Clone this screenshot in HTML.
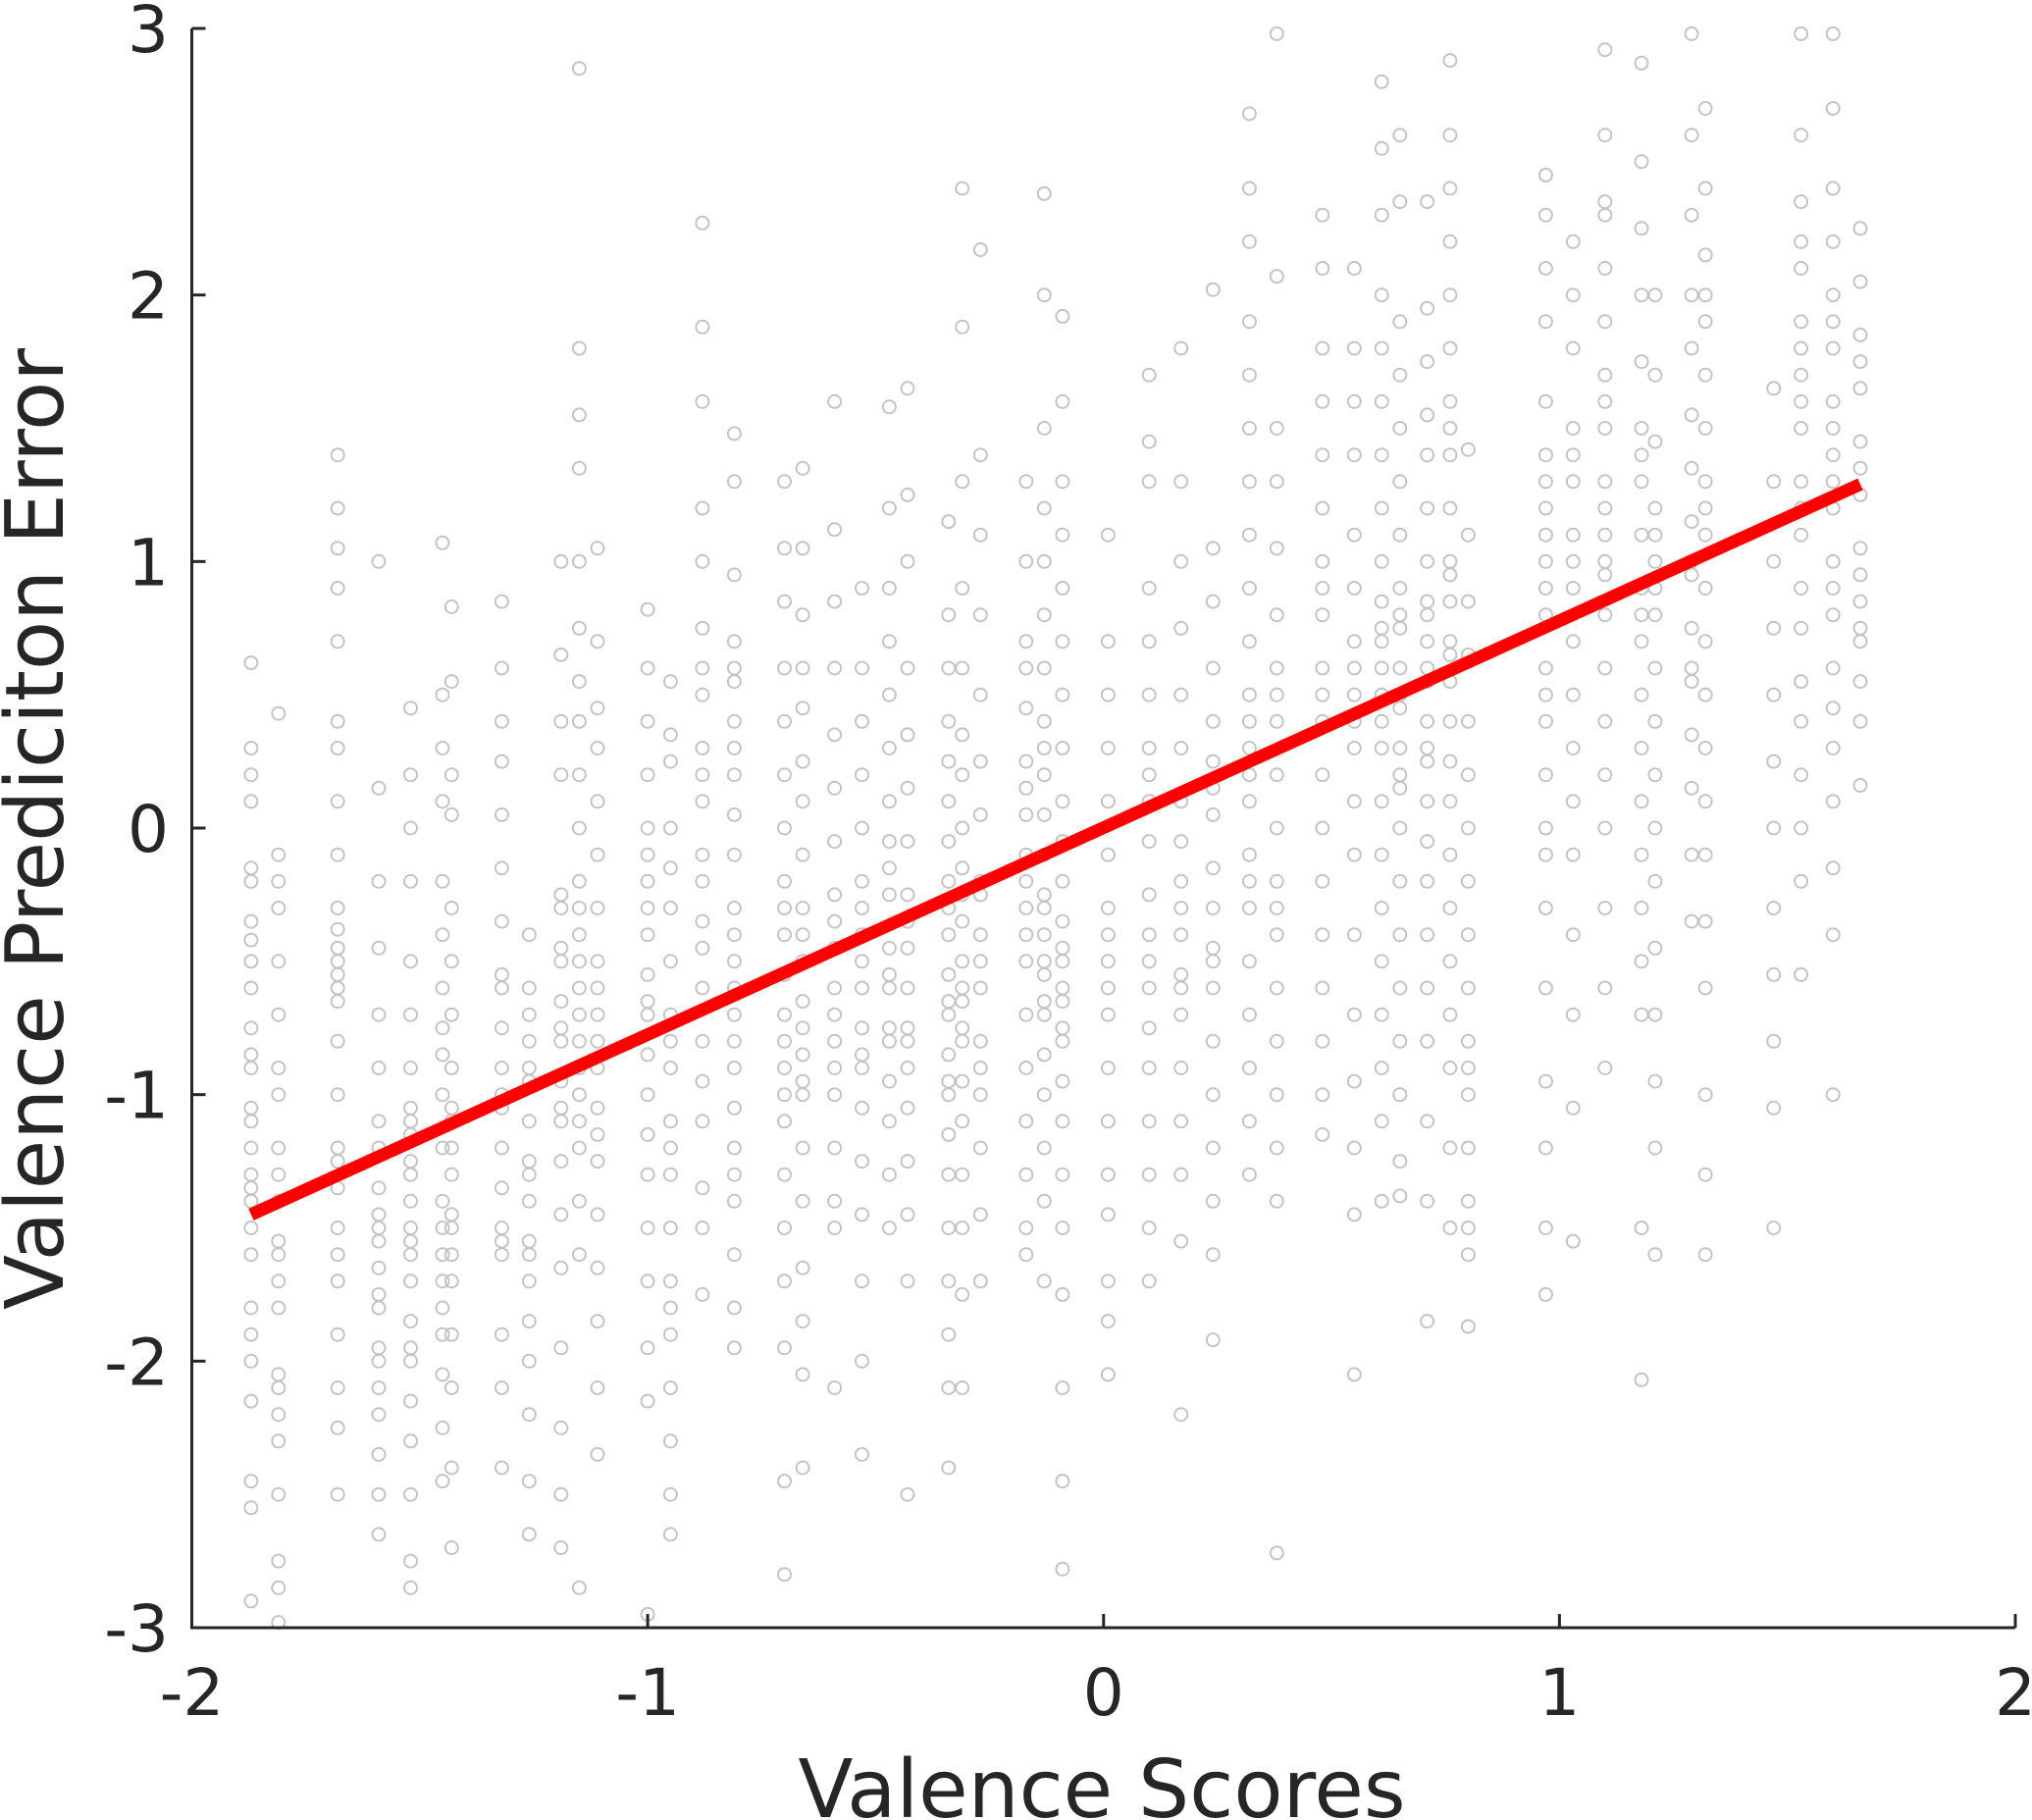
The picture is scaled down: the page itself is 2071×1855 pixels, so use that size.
<!DOCTYPE html>
<html><head><meta charset="utf-8"><style>
html,body{margin:0;padding:0;background:#fff;}
svg{display:block;font-family:"DejaVu Sans","Liberation Sans",sans-serif;}
</style></head><body>
<svg id="chart" width="2071" height="1855" viewBox="0 0 2071 1855"></svg>
<script>
const colX=[-1.87,-1.81,-1.68,-1.59,-1.52,-1.45,-1.43,-1.32,-1.26,-1.19,-1.15,-1.11,-1.0,-0.95,-0.88,-0.81,-0.70,-0.66,-0.59,-0.53,-0.47,-0.43,-0.34,-0.31,-0.27,-0.17,-0.13,-0.09,0.01,0.10,0.17,0.24,0.32,0.38,0.48,0.55,0.61,0.65,0.71,0.76,0.80,0.97,1.03,1.10,1.18,1.21,1.29,1.32,1.47,1.53,1.60,1.66];
const colY=[
[0.62,0.3,0.1,-0.2,-0.5,-0.75,-0.9,-1.1,-1.3,-1.5,-1.8,-2.0,-2.15,-2.45,-2.55,-2.9,0.2,-0.35,-0.6,-1.2,-1.4,-1.9,-0.85,-0.15,-0.42,-1.05,-1.35,-1.6],
[0.43,-0.1,-0.3,-0.5,-0.7,-0.9,-1.2,-1.4,-1.6,-1.8,-2.05,-2.3,-2.5,-2.75,-2.85,-2.98,-1.0,-1.55,-2.1,-0.2,-1.3,-1.7,-2.2],
[1.4,1.2,0.9,0.7,0.4,0.1,-0.1,-0.3,-0.45,-0.6,-0.8,-1.0,-1.2,-1.35,-1.5,-1.7,-1.9,-2.1,-2.25,-2.5,1.05,0.3,-0.55,-1.6,-0.38,-0.5,-0.65,-1.25],
[1.0,0.15,-0.2,-0.45,-0.7,-0.9,-1.1,-1.35,-1.5,-1.65,-1.8,-2.0,-2.2,-2.35,-2.5,-2.65,-1.2,-1.45,-1.95,-1.55,-1.75,-2.1],
[0.45,0.2,0.0,-0.2,-0.5,-0.7,-0.9,-1.1,-1.25,-1.4,-1.55,-1.7,-1.85,-2.0,-2.15,-2.3,-2.5,-2.75,-2.85,-1.6,-1.3,-1.05,-1.15,-1.5,-1.95],
[1.07,0.5,0.3,0.1,-0.2,-0.4,-0.6,-0.85,-1.0,-1.2,-1.4,-1.6,-1.8,-2.05,-2.25,-2.45,-1.5,-1.9,-1.7,-0.75],
[0.83,0.55,0.2,0.05,-0.3,-0.5,-0.7,-0.9,-1.1,-1.3,-1.5,-1.7,-1.9,-2.1,-2.4,-2.7,-1.6,-1.05,-1.2,-1.45],
[0.85,0.6,0.4,0.25,0.05,-0.15,-0.35,-0.55,-0.75,-0.9,-1.05,-1.2,-1.35,-1.5,-1.6,-1.9,-2.1,-2.4,-1.0,-0.6,-1.55],
[-0.4,-0.6,-0.8,-0.95,-1.1,-1.25,-1.4,-1.55,-1.7,-1.85,-2.0,-2.2,-2.45,-2.65,-0.7,-1.6,-0.9,-1.3],
[1.0,0.65,0.4,0.2,-0.25,-0.45,-0.65,-0.8,-0.95,-1.1,-1.25,-1.45,-1.65,-1.95,-2.25,-2.5,-2.7,-0.5,-0.3,-0.75,-1.05],
[1.8,1.55,1.35,1.0,0.75,0.55,0.4,0.2,0.0,-0.2,-0.4,-0.6,-0.8,-1.0,-1.2,-1.4,-1.6,-2.85,2.85,-0.9,-0.3,-0.5,-0.7,-1.1],
[1.05,0.7,0.45,0.3,0.1,-0.1,-0.3,-0.5,-0.7,-0.9,-1.05,-1.25,-1.45,-1.65,-1.85,-2.1,-2.35,-0.6,-0.8,-1.15],
[0.82,0.6,0.4,0.2,0.0,-0.2,-0.4,-0.55,-0.7,-0.85,-1.0,-1.15,-1.3,-1.5,-1.7,-1.95,-2.15,-2.95,-0.1,-0.3,-0.65],
[0.55,0.35,0.25,0.0,-0.3,-0.5,-0.7,-0.9,-1.1,-1.3,-1.5,-1.7,-1.9,-2.1,-2.3,-2.5,-2.65,-0.15,-1.8,-0.8,-1.2],
[2.27,1.88,1.6,1.2,1.0,0.75,0.5,0.3,0.1,-0.1,-0.35,-0.6,-0.8,-0.95,-1.1,-1.35,-1.5,-1.75,0.2,-0.45,0.6,-0.2],
[1.48,1.3,0.95,0.7,0.55,0.4,0.2,0.05,-0.1,-0.3,-0.5,-0.7,-0.9,-1.05,-1.2,-1.4,-1.6,-1.8,-1.95,0.6,-0.6,0.3,-0.4,-0.8,-1.3],
[1.3,1.05,0.85,0.6,0.4,0.2,0.0,-0.2,-0.4,-0.55,-0.7,-0.9,-1.1,-1.3,-1.5,-1.7,-1.95,-2.45,-2.8,-0.3,-0.8,-1.0],
[1.35,1.05,0.8,0.6,0.45,0.25,0.1,-0.1,-0.3,-0.5,-0.65,-0.85,-1.0,-1.2,-1.4,-1.65,-1.85,-2.05,-2.4,-0.75,-0.4,-0.95],
[1.6,1.12,0.85,0.6,0.35,0.15,-0.05,-0.25,-0.45,-0.6,-0.8,-1.0,-1.2,-1.4,-1.5,-2.1,-0.7,-0.9,-0.35],
[0.9,0.6,0.4,0.2,0.0,-0.2,-0.4,-0.6,-0.75,-0.9,-1.05,-1.25,-1.45,-1.7,-2.0,-2.35,-0.5,-0.3,-0.85],
[1.58,1.2,0.9,0.7,0.5,0.3,0.1,-0.05,-0.25,-0.45,-0.6,-0.75,-0.95,-1.1,-1.3,-1.5,-0.8,-0.15,-0.55],
[1.65,1.25,1.0,0.6,0.35,0.15,-0.05,-0.25,-0.45,-0.6,-0.75,-0.9,-1.05,-1.25,-1.45,-1.7,-2.5,-0.35,-0.8],
[1.15,0.8,0.6,0.4,0.25,0.1,-0.05,-0.2,-0.4,-0.55,-0.7,-0.85,-1.0,-1.15,-1.3,-1.5,-1.7,-1.9,-2.1,-2.4,-0.3,-0.65,-0.95],
[2.4,1.88,1.3,0.9,0.6,0.35,0.2,0.0,-0.15,-0.35,-0.5,-0.65,-0.8,-0.95,-1.1,-1.3,-1.5,-1.75,-2.1,-0.6,-0.25,-0.75],
[2.17,1.4,1.1,0.8,0.5,0.25,0.05,-0.2,-0.4,-0.6,-0.8,-1.0,-1.2,-1.45,-1.7,-0.25,-0.5,-0.9],
[1.3,1.0,0.7,0.45,0.25,0.05,-0.1,-0.3,-0.5,-0.7,-0.9,-1.1,-1.3,-1.5,-1.6,-0.2,0.6,0.15,-0.4],
[2.38,2.0,1.5,1.2,1.0,0.8,0.6,0.4,0.2,0.05,-0.1,-0.25,-0.4,-0.55,-0.7,-0.85,-1.0,-1.2,-1.4,-1.7,-0.3,0.3,-0.5,-0.65],
[1.92,1.6,1.3,1.1,0.9,0.7,0.5,0.3,0.1,-0.05,-0.2,-0.35,-0.5,-0.65,-0.8,-0.95,-1.1,-1.3,-1.5,-1.75,-2.1,-2.45,-2.78,-0.45,-0.6,-0.75],
[1.1,0.7,0.5,0.3,0.1,-0.1,-0.3,-0.5,-0.7,-0.9,-1.1,-1.3,-1.45,-1.7,-1.85,-2.05,-0.4,-0.6],
[1.7,1.45,1.3,0.9,0.7,0.5,0.3,0.1,-0.05,-0.25,-0.4,-0.6,-0.75,-0.9,-1.1,-1.3,-1.5,-1.7,0.2,-0.5],
[1.8,1.3,1.0,0.75,0.5,0.3,0.1,-0.05,-0.2,-0.4,-0.55,-0.7,-0.9,-1.1,-1.3,-1.55,-2.2,-0.3,-0.6],
[2.02,1.05,0.85,0.6,0.4,0.25,0.05,-0.15,-0.3,-0.45,-0.6,-0.8,-1.0,-1.2,-1.4,-1.6,-1.92,-0.5,0.15],
[2.68,2.4,2.2,1.9,1.7,1.5,1.3,1.1,0.9,0.7,0.5,0.3,0.1,-0.1,-0.3,-0.5,-0.7,-0.9,-1.1,-1.3,0.4,0.2,-0.2],
[2.07,1.5,1.3,1.05,0.8,0.6,0.4,0.2,0.0,-0.2,-0.4,-0.6,-0.8,-1.0,-1.2,-1.4,-2.72,2.98,0.5,-0.3],
[2.3,2.1,1.8,1.6,1.4,1.2,1.0,0.8,0.6,0.4,0.2,0.0,-0.2,-0.4,-0.6,-0.8,-1.0,-1.15,0.9,0.5],
[2.1,1.8,1.6,1.4,1.1,0.9,0.7,0.5,0.3,0.1,-0.1,-0.4,-0.7,-0.95,-1.2,-1.45,-2.05,0.6,0.4],
[2.8,2.55,2.3,2.0,1.8,1.6,1.4,1.2,1.0,0.85,0.7,0.5,0.3,0.1,-0.1,-0.3,-0.5,-0.7,-0.9,-1.1,-1.4,0.6,0.4,0.75],
[2.6,2.35,1.9,1.7,1.5,1.3,1.1,0.9,0.75,0.6,0.45,0.3,0.15,0.0,-0.2,-0.4,-0.6,-0.8,-1.0,-1.25,-1.38,0.5,0.8,0.2],
[2.35,1.95,1.75,1.55,1.4,1.2,1.0,0.85,0.7,0.55,0.4,0.25,0.1,-0.05,-0.2,-0.4,-0.6,-0.8,-1.1,-1.4,-1.85,0.8,0.6,0.3],
[2.88,2.6,2.4,2.2,2.0,1.8,1.6,1.4,1.2,1.0,0.85,0.7,0.55,0.4,0.25,0.1,-0.1,-0.3,-0.5,-0.7,-0.9,-1.2,-1.5,0.95,0.65,1.5],
[1.42,1.1,0.85,0.65,0.4,0.2,0.0,-0.2,-0.4,-0.6,-0.8,-1.0,-1.2,-1.4,-1.6,-1.87,-0.9,-1.5],
[2.45,2.3,2.1,1.9,1.6,1.4,1.2,1.0,0.8,0.6,0.4,0.2,0.0,-0.1,-0.3,-0.6,-0.95,-1.2,-1.5,-1.75,1.3,0.9,0.5,1.1],
[2.2,2.0,1.8,1.5,1.3,1.1,0.9,0.7,0.5,0.3,0.1,-0.1,-0.4,-0.7,-1.05,-1.55,1.4,1.0],
[2.92,2.6,2.35,2.1,1.9,1.7,1.5,1.3,1.1,0.95,0.8,0.6,0.4,0.2,0.0,-0.3,-0.6,-0.9,1.6,1.2,2.3,1.0],
[2.87,2.5,2.25,2.0,1.75,1.5,1.3,1.1,0.9,0.7,0.5,0.3,0.1,-0.1,-0.3,-0.5,-0.7,-1.5,-2.07,1.4,0.8],
[2.0,1.7,1.45,1.2,1.0,0.8,0.6,0.4,0.2,0.0,-0.2,-0.45,-0.7,-0.95,-1.2,-1.6,1.1,0.9],
[2.98,2.6,2.3,2.0,1.8,1.55,1.35,1.15,0.95,0.75,0.55,0.35,0.15,-0.1,-0.35,1.0,0.6],
[2.7,2.4,2.15,1.9,1.7,1.5,1.3,1.1,0.9,0.7,0.5,0.3,0.1,-0.1,-0.35,-0.6,-1.0,-1.3,-1.6,1.2,2.0],
[1.65,1.3,1.0,0.75,0.5,0.25,0.0,-0.3,-0.55,-0.8,-1.05,-1.5],
[2.98,2.6,2.35,2.1,1.9,1.7,1.5,1.3,1.1,0.9,0.75,0.55,0.4,0.2,0.0,-0.2,-0.55,1.8,1.6,1.2,2.2],
[2.98,2.7,2.4,2.2,2.0,1.8,1.6,1.4,1.2,1.0,0.8,0.6,0.45,0.3,0.1,-0.15,-0.4,-1.0,1.9,1.5,1.3,0.9],
[2.25,2.05,1.85,1.65,1.45,1.25,1.05,0.85,0.7,0.55,0.4,0.16,1.75,1.35,0.95,0.75]
];
const lineX=[-1.87,1.66];
const lineY=[-1.45,1.29];
const xTicks=[-2,-1,0,1,2];
const yTicks=[-3,-2,-1,0,1,2,3];

const L=195.5,R=2054,T=29,B=1659;
const sx=v=>L+(v+2)/4*(R-L);
const sy=v=>B-(v+3)/6*(B-T);
const NS='http://www.w3.org/2000/svg';
const svg=document.getElementById('chart');
function mk(tag,attrs,parent){const e=document.createElementNS(NS,tag);for(const k in attrs)e.setAttribute(k,attrs[k]);(parent||svg).appendChild(e);return e;}

const pts=mk('g',{fill:'none',stroke:'#c4c4c4','stroke-width':'2'});


colX.forEach((x,i)=>{colY[i].forEach(y=>{
  const c=mk('circle',{cx:sx(x).toFixed(1),cy:sy(y).toFixed(1),r:6.5},pts);
  
  
});});

const ln=mk('line',{x1:sx(lineX[0]),y1:sy(lineY[0]),x2:sx(lineX[1]),y2:sy(lineY[1]),stroke:'#ff0000','stroke-width':13});



const ax=mk('path',{d:`M${L},${T} L${L},${B} L${R},${B}`,fill:'none',stroke:'#262626','stroke-width':3});



xTicks.forEach(t=>{
  const tk=mk('line',{x1:sx(t),y1:B,x2:sx(t),y2:B-14,stroke:'#262626','stroke-width':3});
  
  
  const tx=mk('text',{x:sx(t),y:1748,'text-anchor':'middle','font-size':66,fill:'#262626'});
  tx.textContent=t;
  
  
});
yTicks.forEach(t=>{
  const tk=mk('line',{x1:L,y1:sy(t),x2:L+14,y2:sy(t),stroke:'#262626','stroke-width':3});
  
  
  const tx=mk('text',{x:172,y:sy(t)+24,'text-anchor':'end','font-size':66,fill:'#262626'});
  tx.textContent=t;
  
  
});
const xt=mk('text',{x:1123,y:1852,'text-anchor':'middle','font-size':82,fill:'#262626'});
xt.textContent='Valence Scores';


const yt=mk('text',{x:0,y:0,transform:'translate(64,845) rotate(-90)','text-anchor':'middle','font-size':82,fill:'#262626'});
yt.textContent='Valence Prediciton Error';


</script>
</body></html>
